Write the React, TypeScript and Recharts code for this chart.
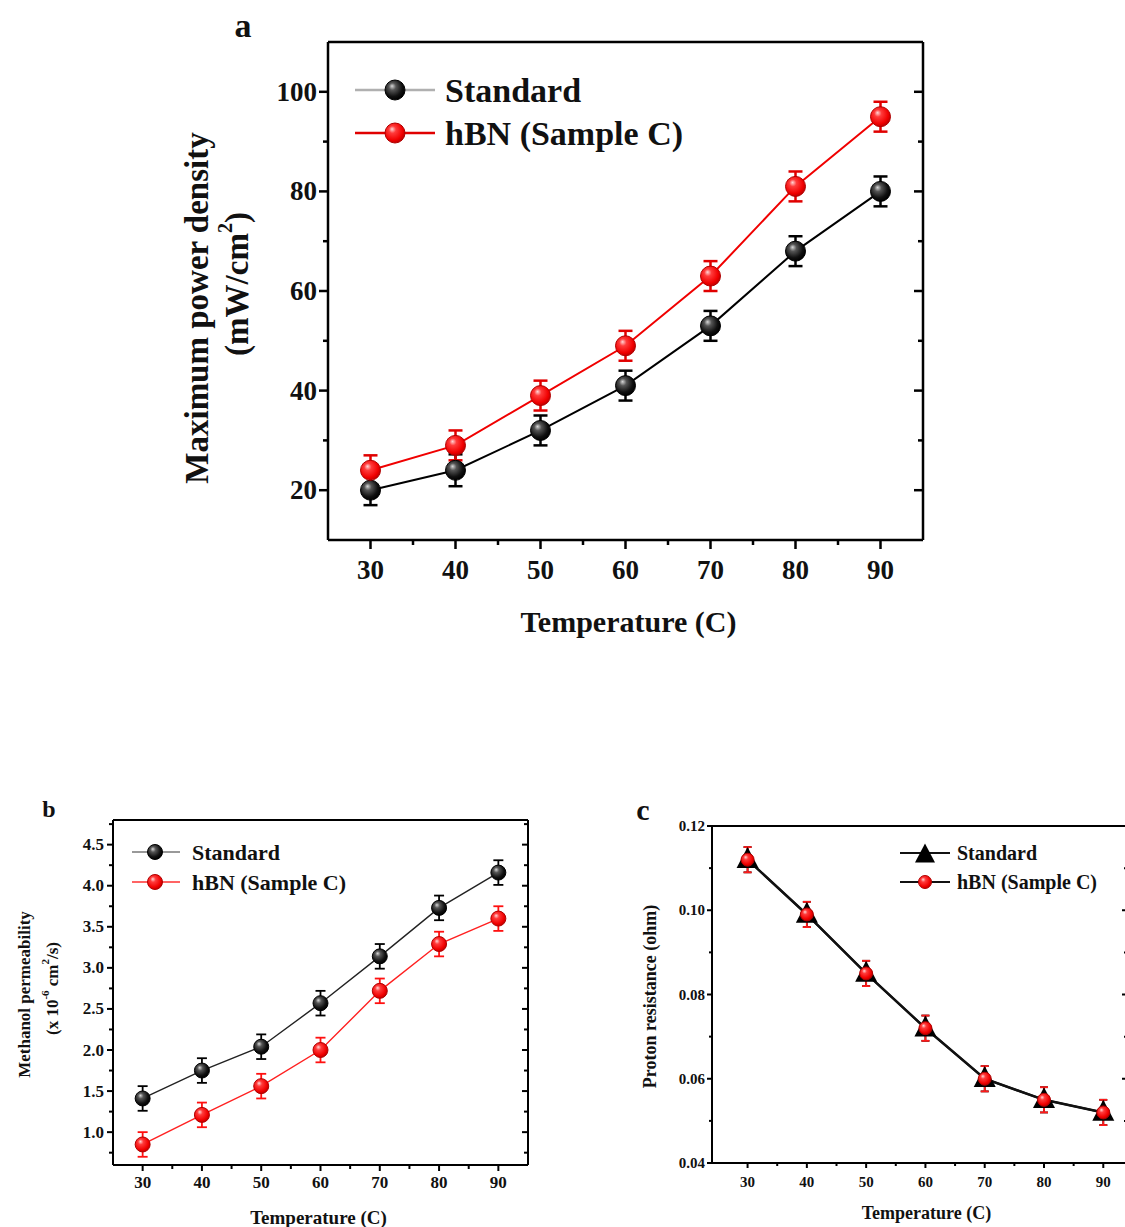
import React from "react";
import { LineChart, Line, XAxis, YAxis, ErrorBar, Legend, Label } from "recharts";

// ---- data ----

const temperatures = [30, 40, 50, 60, 70, 80, 90];

// (a) maximum power density, mW/cm2
const powerStandard = [20, 24, 32, 41, 53, 68, 80];
const powerStandardErr = [3, 3.2, 3, 3, 3, 3, 3];
const powerHbn = [24, 29, 39, 49, 63, 81, 95];
const powerHbnErr = [3, 3, 3, 3, 3, 3, 3];

// (b) methanol permeability, x 10^-6 cm2/s
const permStandard = [1.41, 1.75, 2.04, 2.57, 3.14, 3.73, 4.16];
const permStandardErr = [0.15, 0.15, 0.15, 0.15, 0.15, 0.15, 0.15];
const permHbn = [0.85, 1.21, 1.56, 2.0, 2.72, 3.29, 3.6];
const permHbnErr = [0.15, 0.15, 0.15, 0.15, 0.15, 0.15, 0.15];

// (c) proton resistance, ohm
const resStandard = [0.112, 0.099, 0.085, 0.072, 0.06, 0.055, 0.052];
const resStandardErr = [0.003, 0.003, 0.003, 0.003, 0.003, 0.003, 0.003];
const resHbn = [0.112, 0.099, 0.085, 0.072, 0.06, 0.055, 0.052];
const resHbnErr = [0.003, 0.003, 0.003, 0.003, 0.003, 0.003, 0.003];

// ticks
const tempMajor = [30, 40, 50, 60, 70, 80, 90];
const tempMinor = [35, 45, 55, 65, 75, 85];
const powerMajor = [20, 40, 60, 80, 100];
const powerMinor = [30, 50, 70, 90];
const permMajor = [1.0, 1.5, 2.0, 2.5, 3.0, 3.5, 4.0, 4.5];
const permMinor = [0.75, 1.25, 1.75, 2.25, 2.75, 3.25, 3.75, 4.25, 4.75];
const resMajor = [0.04, 0.06, 0.08, 0.1, 0.12];
const resMinor = [0.05, 0.07, 0.09, 0.11];

const STANDARD = "Standard";
const HBN = "hBN (Sample C)";

const SERIF = "'Liberation Serif', 'Times New Roman', Times, serif";

function rows(std: number[], stdErr: number[], hbn: number[], hbnErr: number[]) {
  return temperatures.map((t, i) => ({ t, std: std[i], stdErr: stdErr[i], hbn: hbn[i], hbnErr: hbnErr[i] }));
}

const powerData = rows(powerStandard, powerStandardErr, powerHbn, powerHbnErr);
const permData = rows(permStandard, permStandardErr, permHbn, permHbnErr);
const resData = rows(resStandard, resStandardErr, resHbn, resHbnErr);

// ---- tick helper: draws its own tick line (major / minor) and label ----

type Side = "bottom" | "top" | "left" | "right";

interface TickSpec {
  side: Side;
  major: number[];
  majorLen: number;
  minorLen: number;
  stroke: number;
  fontSize?: number;
  offset?: number; // label distance from the axis line
  format?: (v: number) => string;
}

function axisTick(spec: TickSpec) {
  return function AxisTick(props: any) {
    const { x, y, payload } = props;
    const v = Number(payload?.value);
    const isMajor = spec.major.some((m) => Math.abs(m - v) < 1e-6);
    const len = isMajor ? spec.majorLen : spec.minorLen;
    const horizontal = spec.side === "bottom" || spec.side === "top";
    // bottom/left point outwards, top/right point inwards
    const x2 = horizontal ? x : x - len;
    const y2 = horizontal ? y + len : y;
    let label: React.ReactNode = null;
    if (isMajor && spec.fontSize && spec.format) {
      const common = { fontFamily: SERIF, fontWeight: 700, fontSize: spec.fontSize, fill: "#111" };
      if (spec.side === "bottom") {
        label = (
          <text x={x} y={y + (spec.offset ?? 20)} textAnchor="middle" dominantBaseline="central" {...common}>
            {spec.format(v)}
          </text>
        );
      } else if (spec.side === "left") {
        label = (
          <text x={x - (spec.offset ?? 10)} y={y} textAnchor="end" dominantBaseline="central" {...common}>
            {spec.format(v)}
          </text>
        );
      }
    }
    return (
      <g>
        <line x1={x} y1={y} x2={x2} y2={y2} stroke="#000" strokeWidth={spec.stroke} />
        {label}
      </g>
    );
  };
}

// ---- markers ----

function Ball({ cx, cy, r, red }: { cx: number; cy: number; r: number; red?: boolean }) {
  return (
    <circle
      cx={cx}
      cy={cy}
      r={r}
      fill={red ? "url(#ballRed)" : "url(#ballBlack)"}
      stroke={red ? "#b00000" : "#000"}
      strokeWidth={1}
    />
  );
}

function Tri({ cx, cy, s }: { cx: number; cy: number; s: number }) {
  return <polygon points={`${cx},${cy - s * 1.15} ${cx - s},${cy + s * 0.75} ${cx + s},${cy + s * 0.75}`} fill="#000" />;
}

const ballDot = (r: number, red: boolean) => (props: any) => {
  const { cx, cy, index } = props;
  if (cx == null || cy == null) return <g key={`d-${index}`} />;
  return (
    <g key={`d-${index}`}>
      <Ball cx={cx} cy={cy} r={r} red={red} />
    </g>
  );
};

const triDot = (s: number) => (props: any) => {
  const { cx, cy, index } = props;
  if (cx == null || cy == null) return <g key={`t-${index}`} />;
  return (
    <g key={`t-${index}`}>
      <Tri cx={cx} cy={cy} s={s} />
    </g>
  );
};

// ---- legend ----

interface LegendRow {
  name: string;
  lineColor: string;
  marker: (cx: number, cy: number) => React.ReactNode;
}

function makeLegend(items: LegendRow[], o: { w: number; rowH: number; y0: number; x1: number; x2: number; mx: number; tx: number; fontSize: number; lineW: number }) {
  return function LegendBox() {
    return (
      <svg width={o.w} height={o.y0 * 2 + o.rowH * (items.length - 1)} style={{ overflow: "visible" }}>
        {items.map((it, i) => {
          const y = o.y0 + i * o.rowH;
          return (
            <g key={it.name}>
              <line x1={o.x1} y1={y} x2={o.x2} y2={y} stroke={it.lineColor} strokeWidth={o.lineW} />
              {it.marker(o.mx, y)}
              <text x={o.tx} y={y} dominantBaseline="central" fontFamily={SERIF} fontWeight={700} fontSize={o.fontSize} fill="#111">
                {it.name}
              </text>
            </g>
          );
        })}
      </svg>
    );
  };
}

// ---- axis titles ----

function yTitle(lines: { x: number; dy: number; content: React.ReactNode }[], fontSize: number) {
  return function YTitle(props: any) {
    const vb = props.viewBox || { y: 0, height: 0 };
    const cy = vb.y + vb.height / 2;
    return (
      <g>
        {lines.map((l, i) => (
          <text
            key={i}
            x={l.x}
            y={cy + l.dy}
            transform={`rotate(-90 ${l.x} ${cy + l.dy})`}
            textAnchor="middle"
            dominantBaseline="central"
            fontFamily={SERIF}
            fontWeight={700}
            fontSize={fontSize}
            fill="#111"
          >
            {l.content}
          </text>
        ))}
      </g>
    );
  };
}

function xTitle(text: string, dx: number, dy: number, fontSize: number) {
  return function XTitle(props: any) {
    const vb = props.viewBox || { x: 0, y: 0, width: 0 };
    return (
      <text
        x={vb.x + vb.width / 2 + dx}
        y={vb.y + dy}
        textAnchor="middle"
        dominantBaseline="central"
        fontFamily={SERIF}
        fontWeight={700}
        fontSize={fontSize}
        fill="#111"
      >
        {text}
      </text>
    );
  };
}

// top / right frame axes with inward ticks and no labels
function frameAxes(xDomain: [number, number], yDomain: [number, number], xTicks: number[], yTicks: number[], xMajor: number[], yMajor: number[], len: [number, number], sw: number) {
  return [
    <XAxis
      key="top"
      xAxisId="top"
      orientation="top"
      type="number"
      domain={xDomain}
      allowDataOverflow
      ticks={xTicks}
      interval={0}
      height={1}
      tickSize={0}
      tickMargin={0}
      tickLine={false}
      axisLine={{ stroke: "#000", strokeWidth: sw }}
      tick={axisTick({ side: "top", major: xMajor, majorLen: len[0], minorLen: len[1], stroke: sw })}
    />,
    <YAxis
      key="right"
      yAxisId="right"
      orientation="right"
      type="number"
      domain={yDomain}
      allowDataOverflow
      ticks={yTicks}
      interval={0}
      width={1}
      tickSize={0}
      tickMargin={0}
      tickLine={false}
      axisLine={{ stroke: "#000", strokeWidth: sw }}
      tick={axisTick({ side: "right", major: yMajor, majorLen: len[0], minorLen: len[1], stroke: sw })}
    />,
  ];
}

// ---- (a) Maximum power density ----

function PowerPanel() {
  const sw = 2.5;
  const xDomain: [number, number] = [25, 95];
  const yDomain: [number, number] = [10, 110];
  const xTicks = [...tempMajor, ...tempMinor];
  const yTicks = [...powerMajor, ...powerMinor];
  const legend = makeLegend(
    [
      { name: STANDARD, lineColor: "#b0b0b0", marker: (x, y) => <Ball cx={x} cy={y} r={10} /> },
      { name: HBN, lineColor: "#e00000", marker: (x, y) => <Ball cx={x} cy={y} r={10} red /> },
    ],
    { w: 380, rowH: 43, y0: 25, x1: 5, x2: 85, mx: 45, tx: 95, fontSize: 34, lineW: 2.5 }
  );
  return (
    <div style={{ position: "absolute", left: 150, top: 0 }}>
      <LineChart width={800} height={660} data={powerData} margin={{ top: 41, right: 26, bottom: 80, left: 118 }}>
        <XAxis
          dataKey="t"
          type="number"
          domain={xDomain}
          allowDataOverflow
          ticks={xTicks}
          interval={0}
          height={40}
          tickSize={0}
          tickMargin={0}
          tickLine={false}
          axisLine={{ stroke: "#000", strokeWidth: sw }}
          tick={axisTick({ side: "bottom", major: tempMajor, majorLen: 9, minorLen: 5, stroke: sw, fontSize: 27, offset: 30, format: (v) => String(v) })}
        >
          <Label content={xTitle("Temperature (C)", 3, 81, 30)} />
        </XAxis>
        <YAxis
          type="number"
          domain={yDomain}
          allowDataOverflow
          ticks={yTicks}
          interval={0}
          width={60}
          tickSize={0}
          tickMargin={0}
          tickLine={false}
          axisLine={{ stroke: "#000", strokeWidth: sw }}
          tick={axisTick({ side: "left", major: powerMajor, majorLen: 9, minorLen: 5, stroke: sw, fontSize: 27, offset: 11, format: (v) => String(v) })}
        >
          <Label
            content={yTitle(
              [
                { x: 47, dy: 17, content: "Maximum power density" },
                {
                  x: 87,
                  dy: -7,
                  content: (
                    <>
                      <tspan>(mW/cm</tspan>
                      <tspan dy={-12} fontSize={20}>2</tspan>
                      <tspan dy={12}>)</tspan>
                    </>
                  ),
                },
              ],
              33
            )}
          />
        </YAxis>
        {frameAxes(xDomain, yDomain, xTicks, yTicks, tempMajor, powerMajor, [9, 5], sw)}
        <Legend layout="vertical" align="center" verticalAlign="middle" wrapperStyle={{ left: 200, top: 65, width: 380 }} content={legend} />
        <Line dataKey="std" name={STANDARD} stroke="#000" strokeWidth={2} dot={ballDot(10, false)} activeDot={false} isAnimationActive={false}>
          <ErrorBar dataKey="stdErr" direction="y" width={7} stroke="#000" strokeWidth={2.5} />
        </Line>
        <Line dataKey="hbn" name={HBN} stroke="#f00000" strokeWidth={2} dot={ballDot(10, true)} activeDot={false} isAnimationActive={false}>
          <ErrorBar dataKey="hbnErr" direction="y" width={7} stroke="#e00000" strokeWidth={2.5} />
        </Line>
      </LineChart>
    </div>
  );
}

// ---- (b) Methanol permeability ----

function PermeabilityPanel() {
  const sw = 2;
  const xDomain: [number, number] = [25, 95];
  const yDomain: [number, number] = [0.6, 4.8];
  const xTicks = [...tempMajor, ...tempMinor];
  const yTicks = [...permMajor, ...permMinor];
  const legend = makeLegend(
    [
      { name: STANDARD, lineColor: "#777", marker: (x, y) => <Ball cx={x} cy={y} r={7.5} /> },
      { name: HBN, lineColor: "#ff3030", marker: (x, y) => <Ball cx={x} cy={y} r={7.5} red /> },
    ],
    { w: 270, rowH: 30, y0: 17, x1: 7, x2: 55, mx: 30, tx: 67, fontSize: 22, lineW: 1.5 }
  );
  return (
    <div style={{ position: "absolute", left: 0, top: 790 }}>
      <LineChart width={560} height={437} data={permData} margin={{ top: 29, right: 31, bottom: 32, left: 63 }}>
        <XAxis
          dataKey="t"
          type="number"
          domain={xDomain}
          allowDataOverflow
          ticks={xTicks}
          interval={0}
          height={30}
          tickSize={0}
          tickMargin={0}
          tickLine={false}
          axisLine={{ stroke: "#000", strokeWidth: sw }}
          tick={axisTick({ side: "bottom", major: tempMajor, majorLen: 6, minorLen: 4, stroke: sw, fontSize: 17, offset: 17, format: (v) => String(v) })}
        >
          <Label content={xTitle("Temperature (C)", -2, 52, 19)} />
        </XAxis>
        <YAxis
          type="number"
          domain={yDomain}
          allowDataOverflow
          ticks={yTicks}
          interval={0}
          width={50}
          tickSize={0}
          tickMargin={0}
          tickLine={false}
          axisLine={{ stroke: "#000", strokeWidth: sw }}
          tick={axisTick({ side: "left", major: permMajor, majorLen: 6, minorLen: 4, stroke: sw, fontSize: 17, offset: 9, format: (v) => v.toFixed(1) })}
        >
          <Label
            content={yTitle(
              [
                { x: 24, dy: 2, content: "Methanol permeability" },
                {
                  x: 52,
                  dy: -4,
                  content: (
                    <>
                      <tspan>(x 10</tspan>
                      <tspan dy={-7} fontSize={11}>-6</tspan>
                      <tspan dy={7}> cm</tspan>
                      <tspan dy={-7} fontSize={11}>2</tspan>
                      <tspan dy={7}>/s)</tspan>
                    </>
                  ),
                },
              ],
              17
            )}
          />
        </YAxis>
        {frameAxes(xDomain, yDomain, xTicks, yTicks, tempMajor, permMajor, [6, 4], sw)}
        <Legend layout="vertical" align="center" verticalAlign="middle" wrapperStyle={{ left: 125, top: 45, width: 270 }} content={legend} />
        <Line dataKey="std" name={STANDARD} stroke="#222" strokeWidth={1.4} dot={ballDot(7.5, false)} activeDot={false} isAnimationActive={false}>
          <ErrorBar dataKey="stdErr" direction="y" width={5} stroke="#000" strokeWidth={1.8} />
        </Line>
        <Line dataKey="hbn" name={HBN} stroke="#ff2020" strokeWidth={1.4} dot={ballDot(7.5, true)} activeDot={false} isAnimationActive={false}>
          <ErrorBar dataKey="hbnErr" direction="y" width={5} stroke="#ff1010" strokeWidth={1.8} />
        </Line>
      </LineChart>
    </div>
  );
}

// ---- (c) Proton resistance ----

function ResistancePanel() {
  const sw = 2;
  const xDomain: [number, number] = [24, 94];
  const yDomain: [number, number] = [0.04, 0.12];
  const xTicks = [...tempMajor, ...tempMinor];
  const yTicks = [...resMajor, ...resMinor];
  const legend = makeLegend(
    [
      { name: STANDARD, lineColor: "#111", marker: (x, y) => <Tri cx={x} cy={y + 2} s={10} /> },
      { name: HBN, lineColor: "#111", marker: (x, y) => <Ball cx={x} cy={y} r={6.5} red /> },
    ],
    { w: 260, rowH: 29, y0: 18, x1: 10, x2: 60, mx: 35, tx: 67, fontSize: 20, lineW: 2 }
  );
  return (
    <div style={{ position: "absolute", left: 620, top: 790 }}>
      <LineChart width={520} height={437} data={resData} margin={{ top: 35, right: 12, bottom: 34, left: 42 }}>
        <XAxis
          dataKey="t"
          type="number"
          domain={xDomain}
          allowDataOverflow
          ticks={xTicks}
          interval={0}
          height={30}
          tickSize={0}
          tickMargin={0}
          tickLine={false}
          axisLine={{ stroke: "#000", strokeWidth: sw }}
          tick={axisTick({ side: "bottom", major: tempMajor, majorLen: 5, minorLen: 3, stroke: sw, fontSize: 15, offset: 19, format: (v) => String(v) })}
        >
          <Label content={xTitle("Temperature (C)", 7, 50, 18)} />
        </XAxis>
        <YAxis
          type="number"
          domain={yDomain}
          allowDataOverflow
          ticks={yTicks}
          interval={0}
          width={50}
          tickSize={0}
          tickMargin={0}
          tickLine={false}
          axisLine={{ stroke: "#000", strokeWidth: sw }}
          tick={axisTick({ side: "left", major: resMajor, majorLen: 5, minorLen: 3, stroke: sw, fontSize: 15, offset: 7, format: (v) => v.toFixed(2) })}
        >
          <Label content={yTitle([{ x: 30, dy: 2, content: "Proton resistance (ohm)" }], 18)} />
        </YAxis>
        {frameAxes(xDomain, yDomain, xTicks, yTicks, tempMajor, resMajor, [5, 3], sw)}
        <Legend layout="vertical" align="center" verticalAlign="middle" wrapperStyle={{ left: 270, top: 45, width: 260 }} content={legend} />
        <Line dataKey="std" name={STANDARD} stroke="#111" strokeWidth={2.5} dot={triDot(11)} activeDot={false} isAnimationActive={false}>
          <ErrorBar dataKey="stdErr" direction="y" width={4} stroke="#000" strokeWidth={1.8} />
        </Line>
        <Line dataKey="hbn" name={HBN} stroke="#111" strokeWidth={2} dot={ballDot(6.5, true)} activeDot={false} isAnimationActive={false}>
          <ErrorBar dataKey="hbnErr" direction="y" width={4} stroke="#ff1a1a" strokeWidth={1.8} />
        </Line>
      </LineChart>
    </div>
  );
}

function PanelLetter({ x, y, size, children }: { x: number; y: number; size: number; children: string }) {
  return (
    <div
      style={{
        position: "absolute",
        left: x,
        top: y,
        transform: "translate(-50%, -50%)",
        fontFamily: SERIF,
        fontWeight: 700,
        fontSize: size,
        lineHeight: 1,
        color: "#111",
      }}
    >
      {children}
    </div>
  );
}

export default function App() {
  return (
    <div style={{ position: "absolute", left: 0, top: 0, width: 1125, height: 1227, overflow: "hidden", background: "#fff" }}>
      <svg width={0} height={0} style={{ position: "absolute" }}>
        <defs>
          <radialGradient id="ballBlack" cx="0.42" cy="0.4" r="0.6" fx="0.35" fy="0.3">
            <stop offset="0" stopColor="#d8d8d8" />
            <stop offset="0.3" stopColor="#555" />
            <stop offset="0.75" stopColor="#111" />
            <stop offset="1" stopColor="#000" />
          </radialGradient>
          <radialGradient id="ballRed" cx="0.42" cy="0.4" r="0.6" fx="0.35" fy="0.3">
            <stop offset="0" stopColor="#ffd6d6" />
            <stop offset="0.3" stopColor="#ff3b3b" />
            <stop offset="0.8" stopColor="#f00000" />
            <stop offset="1" stopColor="#c00000" />
          </radialGradient>
        </defs>
      </svg>
      <PowerPanel />
      <PermeabilityPanel />
      <ResistancePanel />
      <PanelLetter x={243} y={26} size={34}>a</PanelLetter>
      <PanelLetter x={49} y={809} size={24}>b</PanelLetter>
      <PanelLetter x={643} y={810} size={30}>c</PanelLetter>
    </div>
  );
}
